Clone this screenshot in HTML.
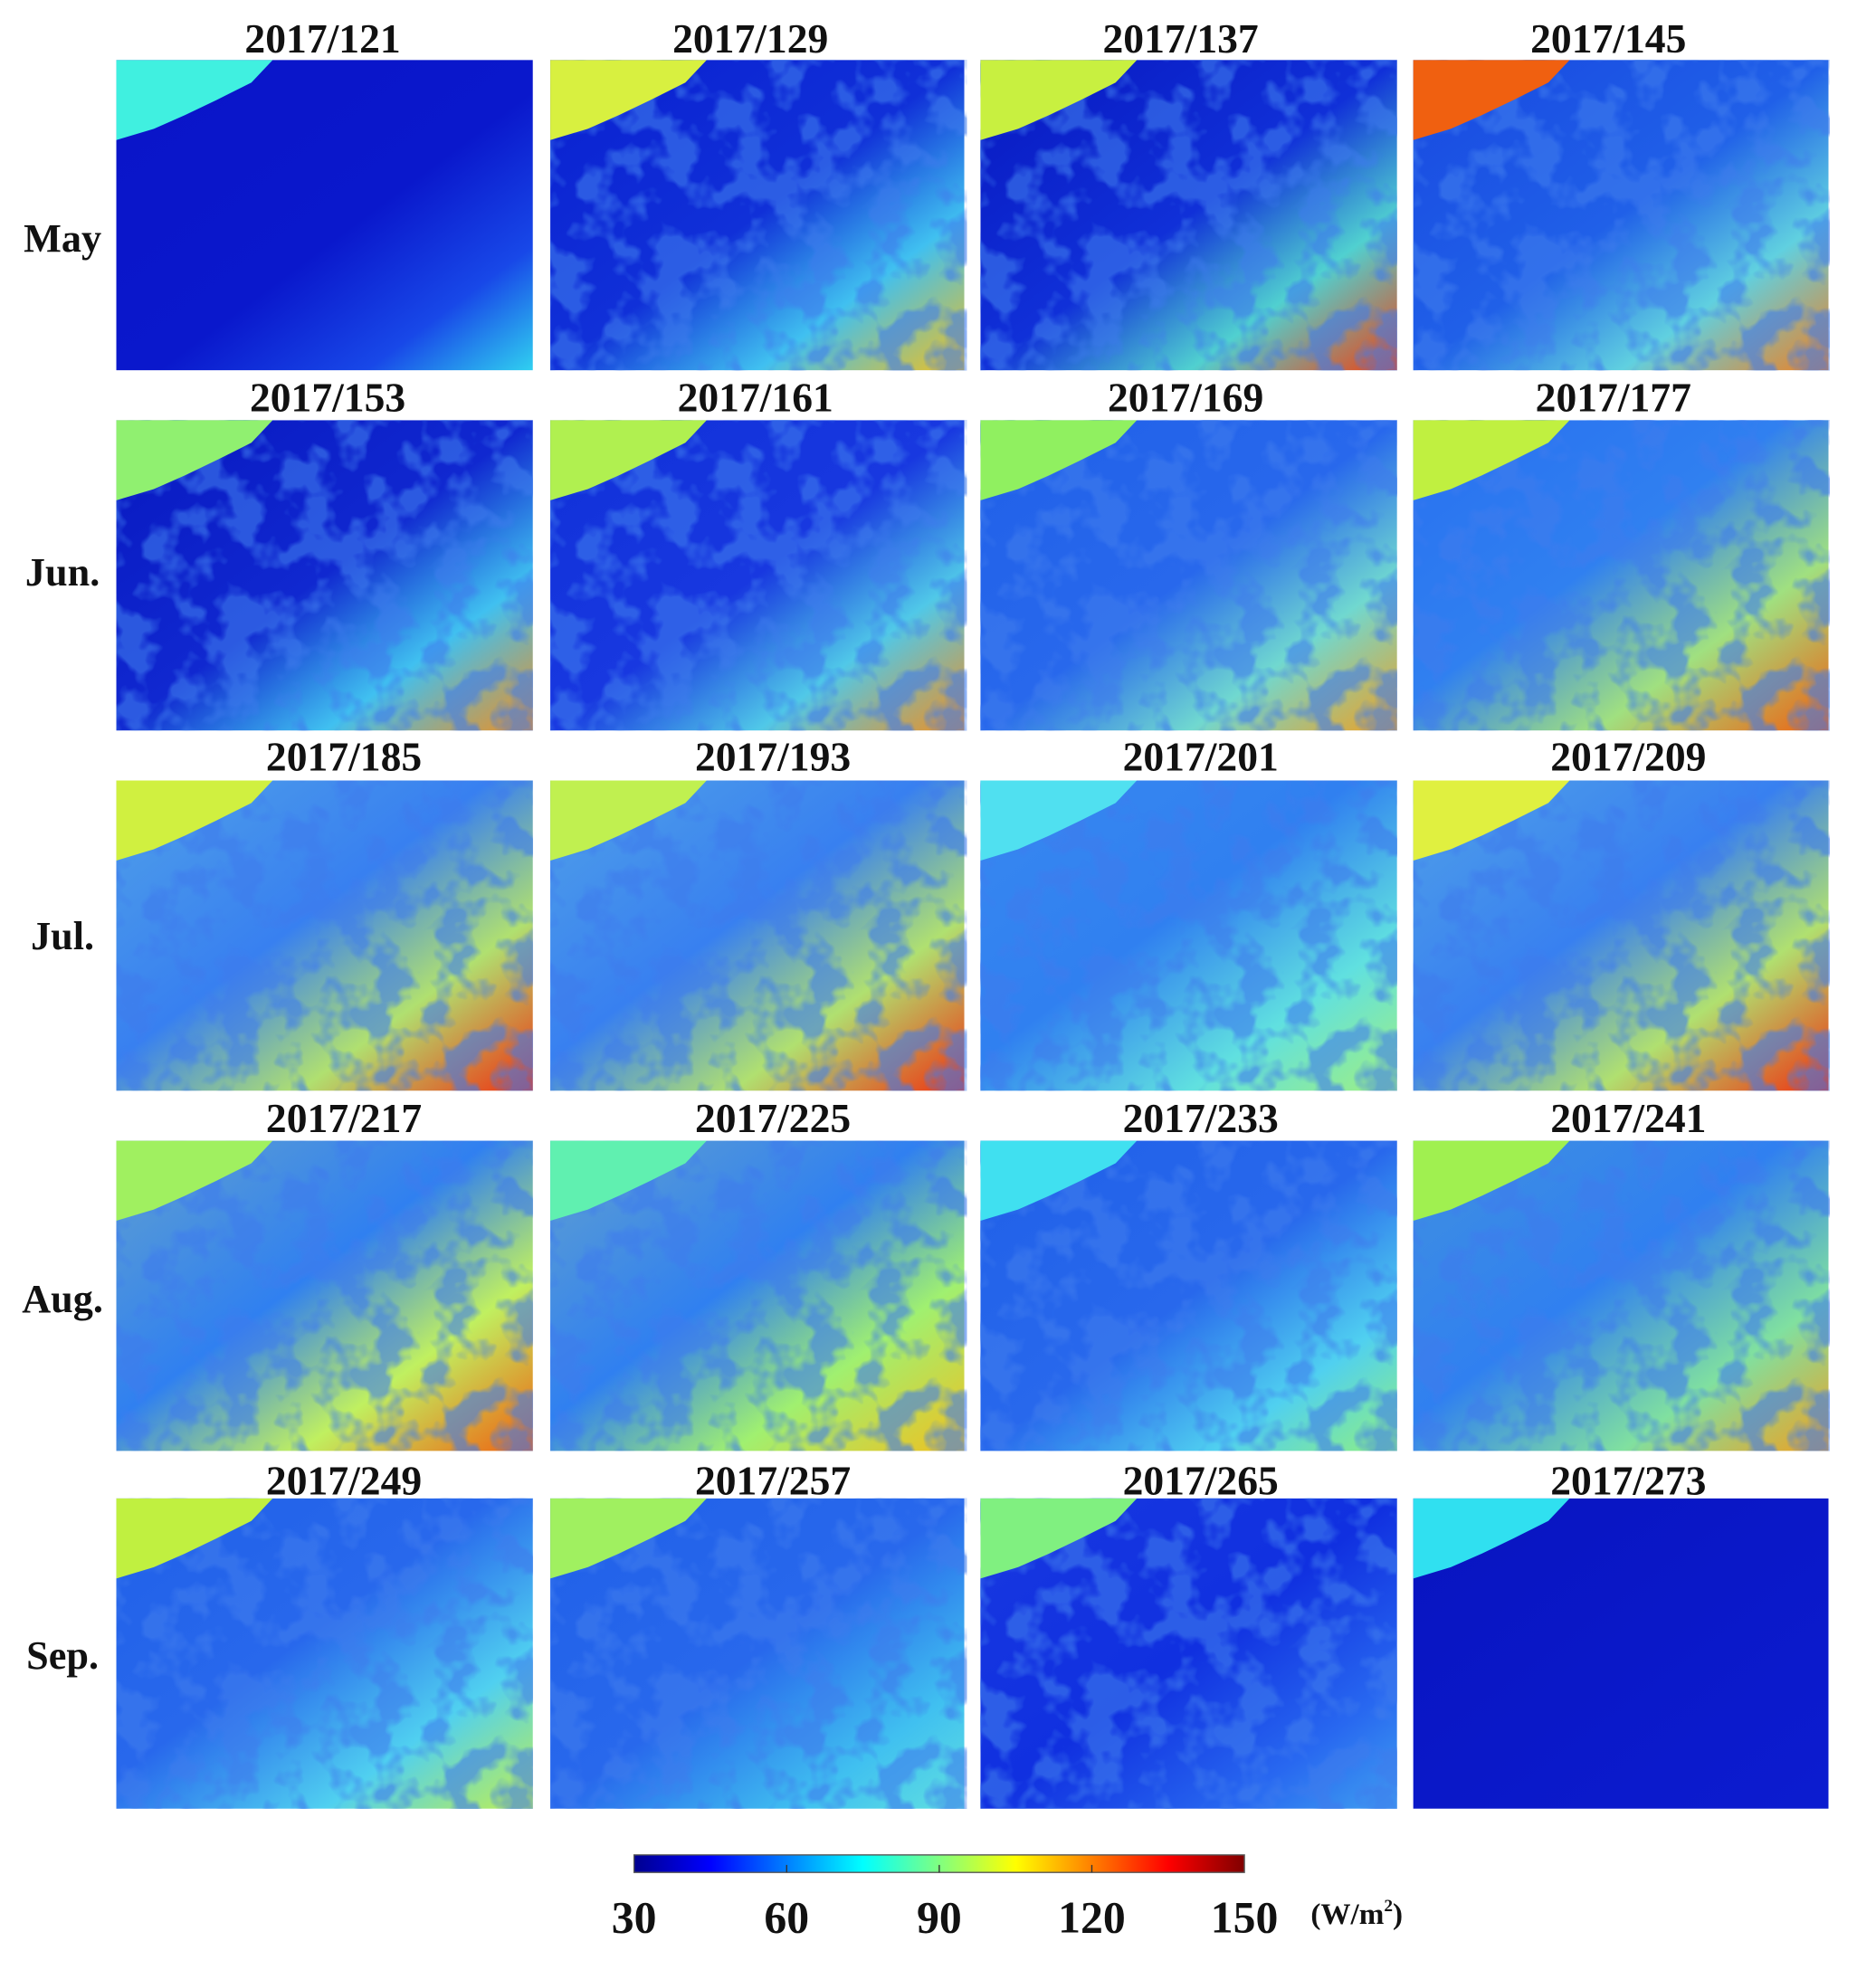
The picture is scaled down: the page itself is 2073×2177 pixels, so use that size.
<!DOCTYPE html>
<html><head><meta charset="utf-8"><style>
html,body{margin:0;padding:0;background:#fff}
svg{display:block}
text{font-family:"Liberation Serif",serif;font-weight:bold;fill:#111}
</style></head><body>
<svg width="2073" height="2177" viewBox="0 0 1500 1575" preserveAspectRatio="none" xmlns="http://www.w3.org/2000/svg">
<defs>
<filter id="blob" x="0" y="0" width="1" height="1"><feTurbulence type="fractalNoise" baseFrequency="0.035" numOctaves="3" seed="3"/><feColorMatrix type="matrix" values="0 0 0 0 0.05  0 0 0 0 0.2  0 0 0 0 0.85  0 0 0 -6 3.3"/></filter>
<linearGradient id="jet" x1="0" y1="0" x2="1" y2="0">
<stop offset="0" stop-color="#00008f"/><stop offset="0.125" stop-color="#0000ff"/><stop offset="0.375" stop-color="#00ffff"/><stop offset="0.5" stop-color="#80ff80"/><stop offset="0.625" stop-color="#ffff00"/><stop offset="0.875" stop-color="#ff0000"/><stop offset="1" stop-color="#800000"/>
</linearGradient>
<linearGradient id="g121" x1="0" y1="0" x2="1" y2="1"><stop offset="0" stop-color="#0a14c8"/><stop offset="0.55" stop-color="#0a18cc"/><stop offset="0.8" stop-color="#1848e8"/><stop offset="1" stop-color="#30d0f0"/></linearGradient>
<linearGradient id="g129" x1="0" y1="0" x2="1" y2="1"><stop offset="0" stop-color="#0a20d0"/><stop offset="0.5" stop-color="#1030d8"/><stop offset="0.75" stop-color="#40c0f0"/><stop offset="1" stop-color="#f0c020"/></linearGradient>
<linearGradient id="g137" x1="0" y1="0" x2="1" y2="1"><stop offset="0" stop-color="#0818c0"/><stop offset="0.5" stop-color="#1030d8"/><stop offset="0.75" stop-color="#50d0d0"/><stop offset="1" stop-color="#f04010"/></linearGradient>
<linearGradient id="g145" x1="0" y1="0" x2="1" y2="1"><stop offset="0" stop-color="#1848e0"/><stop offset="0.5" stop-color="#2060e8"/><stop offset="0.75" stop-color="#60d0e0"/><stop offset="1" stop-color="#f08020"/></linearGradient>
<linearGradient id="g153" x1="0" y1="0" x2="1" y2="1"><stop offset="0" stop-color="#0818c0"/><stop offset="0.5" stop-color="#1028d0"/><stop offset="0.75" stop-color="#40c0f0"/><stop offset="1" stop-color="#f09020"/></linearGradient>
<linearGradient id="g161" x1="0" y1="0" x2="1" y2="1"><stop offset="0" stop-color="#1030d8"/><stop offset="0.5" stop-color="#1838e0"/><stop offset="0.75" stop-color="#50c8e8"/><stop offset="1" stop-color="#f09020"/></linearGradient>
<linearGradient id="g169" x1="0" y1="0" x2="1" y2="1"><stop offset="0" stop-color="#2060e8"/><stop offset="0.5" stop-color="#2868ec"/><stop offset="0.75" stop-color="#70d8d0"/><stop offset="1" stop-color="#f0a020"/></linearGradient>
<linearGradient id="g177" x1="0" y1="0" x2="1" y2="1"><stop offset="0" stop-color="#2870f0"/><stop offset="0.45" stop-color="#3080f0"/><stop offset="0.72" stop-color="#a0e080"/><stop offset="1" stop-color="#f06010"/></linearGradient>
<linearGradient id="g185" x1="0" y1="0" x2="1" y2="1"><stop offset="0" stop-color="#50a0e8"/><stop offset="0.45" stop-color="#3880f0"/><stop offset="0.72" stop-color="#b0e070"/><stop offset="1" stop-color="#f03010"/></linearGradient>
<linearGradient id="g201" x1="0" y1="0" x2="1" y2="1"><stop offset="0" stop-color="#3888f0"/><stop offset="0.45" stop-color="#3080f0"/><stop offset="0.75" stop-color="#60e0e0"/><stop offset="1" stop-color="#a0f080"/></linearGradient>
<linearGradient id="g217" x1="0" y1="0" x2="1" y2="1"><stop offset="0" stop-color="#60a0d0"/><stop offset="0.45" stop-color="#3080f0"/><stop offset="0.72" stop-color="#c0f060"/><stop offset="1" stop-color="#f06010"/></linearGradient>
<linearGradient id="g225" x1="0" y1="0" x2="1" y2="1"><stop offset="0" stop-color="#60a0d0"/><stop offset="0.45" stop-color="#3080f0"/><stop offset="0.72" stop-color="#a0f070"/><stop offset="1" stop-color="#f0c020"/></linearGradient>
<linearGradient id="g233" x1="0" y1="0" x2="1" y2="1"><stop offset="0" stop-color="#2060e8"/><stop offset="0.5" stop-color="#2868ec"/><stop offset="0.78" stop-color="#50d0f0"/><stop offset="1" stop-color="#90f080"/></linearGradient>
<linearGradient id="g241" x1="0" y1="0" x2="1" y2="1"><stop offset="0" stop-color="#4090e0"/><stop offset="0.45" stop-color="#3080f0"/><stop offset="0.75" stop-color="#80e0a0"/><stop offset="1" stop-color="#f0a020"/></linearGradient>
<linearGradient id="g249" x1="0" y1="0" x2="1" y2="1"><stop offset="0" stop-color="#2060e8"/><stop offset="0.45" stop-color="#2868ec"/><stop offset="0.75" stop-color="#50d0f0"/><stop offset="1" stop-color="#c0f050"/></linearGradient>
<linearGradient id="g257" x1="0" y1="0" x2="1" y2="1"><stop offset="0" stop-color="#2060e8"/><stop offset="0.5" stop-color="#2868ec"/><stop offset="0.8" stop-color="#40c0f0"/><stop offset="1" stop-color="#60e0e0"/></linearGradient>
<linearGradient id="g265" x1="0" y1="0" x2="1" y2="1"><stop offset="0" stop-color="#1838e0"/><stop offset="0.5" stop-color="#1030e0"/><stop offset="0.8" stop-color="#2868f0"/><stop offset="1" stop-color="#40a0f0"/></linearGradient>
<linearGradient id="g273" x1="0" y1="0" x2="1" y2="1"><stop offset="0" stop-color="#0814c0"/><stop offset="1" stop-color="#0c1cd0"/></linearGradient>
<polygon id="cn" points="0,0 125,0 108,18 80,32 55,44 30,55 0,64"/>
<rect id="bl" width="333" height="248" filter="url(#blob)" opacity="0.6"/>
</defs>

<!-- Row 1 -->
<g transform="translate(93,48)"><rect width="333" height="248" fill="url(#g121)"/><use href="#cn" fill="#40f0e0"/></g>
<g transform="translate(440,48)"><rect width="331" height="248" fill="url(#g129)"/><use href="#bl"/><use href="#cn" fill="#d8f040"/></g>
<g transform="translate(784,48)"><rect width="333" height="248" fill="url(#g137)"/><use href="#bl"/><use href="#cn" fill="#c8f040"/></g>
<g transform="translate(1130,48)"><rect width="332" height="248" fill="url(#g145)"/><use href="#bl"/><use href="#cn" fill="#f06010"/></g>
<!-- Row 2 -->
<g transform="translate(93,336)"><rect width="333" height="248" fill="url(#g153)"/><use href="#bl"/><use href="#cn" fill="#90f070"/></g>
<g transform="translate(440,336)"><rect width="331" height="248" fill="url(#g161)"/><use href="#bl"/><use href="#cn" fill="#b0f050"/></g>
<g transform="translate(784,336)"><rect width="333" height="248" fill="url(#g169)"/><use href="#bl"/><use href="#cn" fill="#90f060"/></g>
<g transform="translate(1130,336)"><rect width="332" height="248" fill="url(#g177)"/><use href="#bl"/><use href="#cn" fill="#c0f040"/></g>
<!-- Row 3 -->
<g transform="translate(93,624)"><rect width="333" height="248" fill="url(#g185)"/><use href="#bl"/><use href="#cn" fill="#d0f040"/></g>
<g transform="translate(440,624)"><rect width="331" height="248" fill="url(#g185)"/><use href="#bl"/><use href="#cn" fill="#c0f050"/></g>
<g transform="translate(784,624)"><rect width="333" height="248" fill="url(#g201)"/><use href="#bl"/><use href="#cn" fill="#50e0f0"/></g>
<g transform="translate(1130,624)"><rect width="332" height="248" fill="url(#g185)"/><use href="#bl"/><use href="#cn" fill="#e0f040"/></g>
<!-- Row 4 -->
<g transform="translate(93,912)"><rect width="333" height="248" fill="url(#g217)"/><use href="#bl"/><use href="#cn" fill="#a0f060"/></g>
<g transform="translate(440,912)"><rect width="331" height="248" fill="url(#g225)"/><use href="#bl"/><use href="#cn" fill="#60f0b0"/></g>
<g transform="translate(784,912)"><rect width="333" height="248" fill="url(#g233)"/><use href="#bl"/><use href="#cn" fill="#40e0f0"/></g>
<g transform="translate(1130,912)"><rect width="332" height="248" fill="url(#g241)"/><use href="#bl"/><use href="#cn" fill="#a0f050"/></g>
<!-- Row 5 -->
<g transform="translate(93,1198)"><rect width="333" height="248" fill="url(#g249)"/><use href="#bl"/><use href="#cn" fill="#c0f040"/></g>
<g transform="translate(440,1198)"><rect width="331" height="248" fill="url(#g257)"/><use href="#bl"/><use href="#cn" fill="#a0f060"/></g>
<g transform="translate(784,1198)"><rect width="333" height="248" fill="url(#g265)"/><use href="#bl"/><use href="#cn" fill="#80f080"/></g>
<g transform="translate(1130,1198)"><rect width="332" height="248" fill="url(#g273)"/><use href="#cn" fill="#30e0f0"/></g>

<!-- Titles -->
<g font-size="33" text-anchor="middle">
<text x="258" y="42">2017/121</text><text x="600" y="42">2017/129</text><text x="944" y="42">2017/137</text><text x="1286" y="42">2017/145</text>
<text x="262" y="329">2017/153</text><text x="604" y="329">2017/161</text><text x="948" y="329">2017/169</text><text x="1290" y="329">2017/177</text>
<text x="275" y="616">2017/185</text><text x="618" y="616">2017/193</text><text x="960" y="616">2017/201</text><text x="1302" y="616">2017/209</text>
<text x="275" y="905">2017/217</text><text x="618" y="905">2017/225</text><text x="960" y="905">2017/233</text><text x="1302" y="905">2017/241</text>
<text x="275" y="1195">2017/249</text><text x="618" y="1195">2017/257</text><text x="960" y="1195">2017/265</text><text x="1302" y="1195">2017/273</text>
</g>
<!-- Row labels -->
<g font-size="32" text-anchor="middle">
<text x="50" y="201">May</text><text x="50" y="468">Jun.</text><text x="50" y="759">Jul.</text><text x="50" y="1049">Aug.</text><text x="50" y="1334">Sep.</text>
</g>
<!-- Colorbar -->
<rect x="507" y="1483" width="488" height="14" fill="url(#jet)" stroke="#555" stroke-width="1"/>
<g stroke="#333" stroke-width="1"><line x1="629" y1="1491" x2="629" y2="1497"/><line x1="751" y1="1491" x2="751" y2="1497"/><line x1="873" y1="1491" x2="873" y2="1497"/></g>
<g font-size="36" text-anchor="middle">
<text x="507" y="1545">30</text><text x="629" y="1545">60</text><text x="751" y="1545">90</text><text x="873" y="1545">120</text><text x="995" y="1545">150</text>
</g>
<text x="1048" y="1538" font-size="24">(W/m<tspan font-size="14" dy="-10">2</tspan><tspan dy="10">)</tspan></text>
</svg>
</body></html>
